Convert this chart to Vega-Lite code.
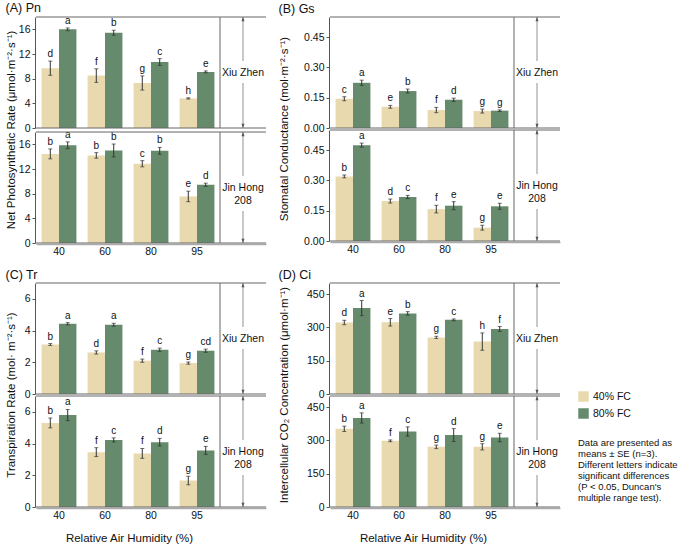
{
  "$schema": "https://vega.github.io/schema/vega-lite/v6.json",
  "padding": {"left": 5, "top": 2, "right": 5, "bottom": 2},
  "datasets": {
    "pn": [
      {"variety": "Xiu Zhen", "rh": "40", "fc": "40% FC", "mean": 9.7, "se": 1.15, "sig": "d"},
      {"variety": "Xiu Zhen", "rh": "40", "fc": "80% FC", "mean": 16.0, "se": 0.22, "sig": "a"},
      {"variety": "Xiu Zhen", "rh": "60", "fc": "40% FC", "mean": 8.5, "se": 1.1, "sig": "f"},
      {"variety": "Xiu Zhen", "rh": "60", "fc": "80% FC", "mean": 15.45, "se": 0.4, "sig": "b"},
      {"variety": "Xiu Zhen", "rh": "80", "fc": "40% FC", "mean": 7.3, "se": 1.15, "sig": "g"},
      {"variety": "Xiu Zhen", "rh": "80", "fc": "80% FC", "mean": 10.7, "se": 0.55, "sig": "c"},
      {"variety": "Xiu Zhen", "rh": "95", "fc": "40% FC", "mean": 4.8, "se": 0.1, "sig": "h"},
      {"variety": "Xiu Zhen", "rh": "95", "fc": "80% FC", "mean": 9.1, "se": 0.15, "sig": "e"},
      {"variety": "Jin Hong 208", "rh": "40", "fc": "40% FC", "mean": 14.45, "se": 0.8, "sig": "b"},
      {"variety": "Jin Hong 208", "rh": "40", "fc": "80% FC", "mean": 15.85, "se": 0.55, "sig": "a"},
      {"variety": "Jin Hong 208", "rh": "60", "fc": "40% FC", "mean": 14.2, "se": 0.45, "sig": "b"},
      {"variety": "Jin Hong 208", "rh": "60", "fc": "80% FC", "mean": 15.0, "se": 1.05, "sig": "b"},
      {"variety": "Jin Hong 208", "rh": "80", "fc": "40% FC", "mean": 12.85, "se": 0.5, "sig": "c"},
      {"variety": "Jin Hong 208", "rh": "80", "fc": "80% FC", "mean": 14.95, "se": 0.55, "sig": "b"},
      {"variety": "Jin Hong 208", "rh": "95", "fc": "40% FC", "mean": 7.55, "se": 0.85, "sig": "e"},
      {"variety": "Jin Hong 208", "rh": "95", "fc": "80% FC", "mean": 9.45, "se": 0.25, "sig": "d"}
    ],
    "gs": [
      {"variety": "Xiu Zhen", "rh": "40", "fc": "40% FC", "mean": 0.145, "se": 0.01, "sig": "c"},
      {"variety": "Xiu Zhen", "rh": "40", "fc": "80% FC", "mean": 0.224, "se": 0.013, "sig": "a"},
      {"variety": "Xiu Zhen", "rh": "60", "fc": "40% FC", "mean": 0.105, "se": 0.007, "sig": "e"},
      {"variety": "Xiu Zhen", "rh": "60", "fc": "80% FC", "mean": 0.183, "se": 0.01, "sig": "b"},
      {"variety": "Xiu Zhen", "rh": "80", "fc": "40% FC", "mean": 0.089, "se": 0.013, "sig": "f"},
      {"variety": "Xiu Zhen", "rh": "80", "fc": "80% FC", "mean": 0.14, "se": 0.008, "sig": "d"},
      {"variety": "Xiu Zhen", "rh": "95", "fc": "40% FC", "mean": 0.084, "se": 0.01, "sig": "g"},
      {"variety": "Xiu Zhen", "rh": "95", "fc": "80% FC", "mean": 0.086, "se": 0.004, "sig": "g"},
      {"variety": "Jin Hong 208", "rh": "40", "fc": "40% FC", "mean": 0.32, "se": 0.007, "sig": "b"},
      {"variety": "Jin Hong 208", "rh": "40", "fc": "80% FC", "mean": 0.475, "se": 0.01, "sig": "a"},
      {"variety": "Jin Hong 208", "rh": "60", "fc": "40% FC", "mean": 0.198, "se": 0.01, "sig": "d"},
      {"variety": "Jin Hong 208", "rh": "60", "fc": "80% FC", "mean": 0.218, "se": 0.008, "sig": "c"},
      {"variety": "Jin Hong 208", "rh": "80", "fc": "40% FC", "mean": 0.158, "se": 0.019, "sig": "f"},
      {"variety": "Jin Hong 208", "rh": "80", "fc": "80% FC", "mean": 0.175, "se": 0.02, "sig": "e"},
      {"variety": "Jin Hong 208", "rh": "95", "fc": "40% FC", "mean": 0.066, "se": 0.012, "sig": "g"},
      {"variety": "Jin Hong 208", "rh": "95", "fc": "80% FC", "mean": 0.172, "se": 0.015, "sig": "e"}
    ],
    "tr": [
      {"variety": "Xiu Zhen", "rh": "40", "fc": "40% FC", "mean": 3.12, "se": 0.06, "sig": "b"},
      {"variety": "Xiu Zhen", "rh": "40", "fc": "80% FC", "mean": 4.43, "se": 0.07, "sig": "a"},
      {"variety": "Xiu Zhen", "rh": "60", "fc": "40% FC", "mean": 2.62, "se": 0.1, "sig": "d"},
      {"variety": "Xiu Zhen", "rh": "60", "fc": "80% FC", "mean": 4.37, "se": 0.09, "sig": "a"},
      {"variety": "Xiu Zhen", "rh": "80", "fc": "40% FC", "mean": 2.1, "se": 0.1, "sig": "f"},
      {"variety": "Xiu Zhen", "rh": "80", "fc": "80% FC", "mean": 2.79, "se": 0.1, "sig": "c"},
      {"variety": "Xiu Zhen", "rh": "95", "fc": "40% FC", "mean": 1.95, "se": 0.07, "sig": "g"},
      {"variety": "Xiu Zhen", "rh": "95", "fc": "80% FC", "mean": 2.73, "se": 0.1, "sig": "cd"},
      {"variety": "Jin Hong 208", "rh": "40", "fc": "40% FC", "mean": 5.3, "se": 0.31, "sig": "b"},
      {"variety": "Jin Hong 208", "rh": "40", "fc": "80% FC", "mean": 5.8, "se": 0.35, "sig": "a"},
      {"variety": "Jin Hong 208", "rh": "60", "fc": "40% FC", "mean": 3.46, "se": 0.28, "sig": "f"},
      {"variety": "Jin Hong 208", "rh": "60", "fc": "80% FC", "mean": 4.23, "se": 0.13, "sig": "c"},
      {"variety": "Jin Hong 208", "rh": "80", "fc": "40% FC", "mean": 3.38, "se": 0.31, "sig": "f"},
      {"variety": "Jin Hong 208", "rh": "80", "fc": "80% FC", "mean": 4.09, "se": 0.24, "sig": "d"},
      {"variety": "Jin Hong 208", "rh": "95", "fc": "40% FC", "mean": 1.67, "se": 0.27, "sig": "g"},
      {"variety": "Jin Hong 208", "rh": "95", "fc": "80% FC", "mean": 3.57, "se": 0.25, "sig": "e"}
    ],
    "ci": [
      {"variety": "Xiu Zhen", "rh": "40", "fc": "40% FC", "mean": 322, "se": 10, "sig": "d"},
      {"variety": "Xiu Zhen", "rh": "40", "fc": "80% FC", "mean": 387, "se": 34, "sig": "a"},
      {"variety": "Xiu Zhen", "rh": "60", "fc": "40% FC", "mean": 323, "se": 17, "sig": "e"},
      {"variety": "Xiu Zhen", "rh": "60", "fc": "80% FC", "mean": 363, "se": 8, "sig": "b"},
      {"variety": "Xiu Zhen", "rh": "80", "fc": "40% FC", "mean": 255, "se": 5, "sig": "g"},
      {"variety": "Xiu Zhen", "rh": "80", "fc": "80% FC", "mean": 334, "se": 4, "sig": "c"},
      {"variety": "Xiu Zhen", "rh": "95", "fc": "40% FC", "mean": 236, "se": 39, "sig": "h"},
      {"variety": "Xiu Zhen", "rh": "95", "fc": "80% FC", "mean": 293, "se": 11, "sig": "f"},
      {"variety": "Jin Hong 208", "rh": "40", "fc": "40% FC", "mean": 352, "se": 12, "sig": "b"},
      {"variety": "Jin Hong 208", "rh": "40", "fc": "80% FC", "mean": 401, "se": 23, "sig": "a"},
      {"variety": "Jin Hong 208", "rh": "60", "fc": "40% FC", "mean": 298, "se": 4, "sig": "f"},
      {"variety": "Jin Hong 208", "rh": "60", "fc": "80% FC", "mean": 340, "se": 21, "sig": "c"},
      {"variety": "Jin Hong 208", "rh": "80", "fc": "40% FC", "mean": 271, "se": 8, "sig": "g"},
      {"variety": "Jin Hong 208", "rh": "80", "fc": "80% FC", "mean": 324, "se": 29, "sig": "d"},
      {"variety": "Jin Hong 208", "rh": "95", "fc": "40% FC", "mean": 271, "se": 14, "sig": "g"},
      {"variety": "Jin Hong 208", "rh": "95", "fc": "80% FC", "mean": 313, "se": 19, "sig": "e"}
    ]
  },
  "vconcat": [
    {
      "hconcat": [
        {
          "title": "(A) Pn",
          "data": {"name": "pn"},
          "facet": {"row": {"field": "variety", "type": "nominal", "sort": ["Xiu Zhen", "Jin Hong 208"], "header": {"title": "Net Photosynthetic Rate (μmol·m⁻²·s⁻¹)", "labels": false, "titlePadding": -9, "labelPadding": 0}}},
          "spacing": 0,
          "spec": {
            "width": 230, "height": 111,
            "layer": [
              {"mark": "bar", "encoding": {
                "x": {"field": "rh", "type": "nominal", "scale": {"domain": ["40", "60", "80", "95", "S"], "paddingInner": 0, "paddingOuter": 0}, "axis": {"labelExpr": "datum.value == 'S' ? '' : datum.label"}, "title": null},
                "xOffset": {"field": "fc", "type": "nominal", "scale": {"domain": ["40% FC", "80% FC"], "paddingInner": 0, "paddingOuter": 0.32}},
                "y": {"field": "mean", "type": "quantitative", "scale": {"domain": [0, 18], "nice": false}, "axis": {"values": [0, 4, 8, 12, 16], "tickCount": 20, "format": "d", "minExtent": 17}, "title": null},
                "color": {"field": "fc", "type": "nominal", "scale": {"domain": ["40% FC", "80% FC"], "range": ["#E9D9AE", "#668A6C"]}, "legend": {
                  "title": ["Data are presented as", "means ± SE (n=3).", "Different letters indicate", "significant differences", "(P < 0.05, Duncan's", "multiple range test)."],
                  "titleOrient": "bottom", "titleAnchor": "start", "titleFontSize": 9.5, "titleFontWeight": "normal", "titleColor": "#111", "titleLineHeight": 11, "titlePadding": 19, "titleLimit": 200,
                  "orient": "none", "legendX": 542, "legendY": 374, "symbolType": "square", "symbolSize": 110, "symbolStrokeWidth": 0, "labelFontSize": 10.5, "rowPadding": 6}}
              }},
              {"transform": [{"calculate": "datum.mean - datum.se", "as": "lo"}, {"calculate": "datum.mean + datum.se", "as": "hi"}],
               "layer": [
                 {"mark": {"type": "rule", "color": "#333", "strokeWidth": 1}, "encoding": {"x": {"field": "rh", "type": "nominal"}, "xOffset": {"field": "fc", "type": "nominal"}, "y": {"field": "lo", "type": "quantitative"}, "y2": {"field": "hi"}}},
                 {"mark": {"type": "tick", "orient": "horizontal", "size": 4, "thickness": 1, "color": "#333"}, "encoding": {"x": {"field": "rh", "type": "nominal"}, "xOffset": {"field": "fc", "type": "nominal"}, "y": {"field": "lo", "type": "quantitative"}}},
                 {"mark": {"type": "tick", "orient": "horizontal", "size": 4, "thickness": 1, "color": "#333"}, "encoding": {"x": {"field": "rh", "type": "nominal"}, "xOffset": {"field": "fc", "type": "nominal"}, "y": {"field": "hi", "type": "quantitative"}}},
                 {"mark": {"type": "text", "baseline": "bottom", "dy": -2, "fontSize": 10, "color": "#111"}, "encoding": {"x": {"field": "rh", "type": "nominal"}, "xOffset": {"field": "fc", "type": "nominal"}, "y": {"field": "hi", "type": "quantitative"}, "text": {"field": "sig"}}}
               ]},
              {"transform": [{"aggregate": [{"op": "count", "as": "n"}], "groupby": ["variety"]}, {"calculate": "replace(datum.variety, 'Hong ', 'Hong\\n')", "as": "lbl"}],
               "layer": [
                 {"mark": {"type": "rule", "color": "#777", "strokeWidth": 0.8}, "encoding": {"x": {"datum": "S"}, "y": {"datum": 18}, "y2": {"datum": 0}}},
                 {"mark": {"type": "point", "shape": "M0,0L-0.6,1.7L0.6,1.7Z", "filled": true, "size": 26, "color": "#555", "opacity": 1}, "encoding": {"x": {"datum": "S"}, "y": {"datum": 18}}},
                 {"mark": {"type": "point", "shape": "M0,0L-0.6,-1.7L0.6,-1.7Z", "filled": true, "size": 26, "color": "#555", "opacity": 1}, "encoding": {"x": {"datum": "S"}, "y": {"datum": 0}}},
                 {"mark": {"type": "text", "fill": "white", "stroke": "white", "strokeWidth": 14, "strokeJoin": "round", "lineBreak": "\n", "fontSize": 10.5, "lineHeight": 13}, "encoding": {"x": {"datum": "S"}, "y": {"datum": 9}, "text": {"field": "lbl"}}},
                 {"mark": {"type": "text", "color": "#111", "lineBreak": "\n", "fontSize": 10.5, "lineHeight": 13}, "encoding": {"x": {"datum": "S"}, "y": {"datum": 9}, "text": {"field": "lbl"}}},
                 {"mark": {"type": "rule", "color": "#666", "strokeWidth": 1}, "encoding": {"y": {"datum": 18}}},
                 {"mark": {"type": "rule", "color": "#666", "strokeWidth": 1}, "encoding": {"y": {"datum": 0}}},
                 {"mark": {"type": "rule", "color": "#666", "strokeWidth": 1}, "encoding": {"x": {"datum": "S", "bandPosition": 0}}}
               ]}
            ]
          }
        },
        {
          "title": "(B) Gs",
          "data": {"name": "gs"},
          "facet": {"row": {"field": "variety", "type": "nominal", "sort": ["Xiu Zhen", "Jin Hong 208"], "header": {"title": "Stomatal Conductance (mol·m⁻²·s⁻¹)", "labels": false, "titlePadding": 3, "labelPadding": 0}}},
          "spacing": 0,
          "spec": {
            "width": 230, "height": 111,
            "layer": [
              {"mark": "bar", "encoding": {
                "x": {"field": "rh", "type": "nominal", "scale": {"domain": ["40", "60", "80", "95", "S"], "paddingInner": 0, "paddingOuter": 0}, "axis": {"labelExpr": "datum.value == 'S' ? '' : datum.label"}, "title": null},
                "xOffset": {"field": "fc", "type": "nominal", "scale": {"domain": ["40% FC", "80% FC"], "paddingInner": 0, "paddingOuter": 0.32}},
                "y": {"field": "mean", "type": "quantitative", "scale": {"domain": [0, 0.55], "nice": false}, "axis": {"values": [0, 0.15, 0.3, 0.45], "format": ".2f", "tickCount": 20, "minExtent": 26}, "title": null},
                "color": {"field": "fc", "type": "nominal"}
              }},
              {"transform": [{"calculate": "datum.mean - datum.se", "as": "lo"}, {"calculate": "datum.mean + datum.se", "as": "hi"}],
               "layer": [
                 {"mark": {"type": "rule", "color": "#333", "strokeWidth": 1}, "encoding": {"x": {"field": "rh", "type": "nominal"}, "xOffset": {"field": "fc", "type": "nominal"}, "y": {"field": "lo", "type": "quantitative"}, "y2": {"field": "hi"}}},
                 {"mark": {"type": "tick", "orient": "horizontal", "size": 4, "thickness": 1, "color": "#333"}, "encoding": {"x": {"field": "rh", "type": "nominal"}, "xOffset": {"field": "fc", "type": "nominal"}, "y": {"field": "lo", "type": "quantitative"}}},
                 {"mark": {"type": "tick", "orient": "horizontal", "size": 4, "thickness": 1, "color": "#333"}, "encoding": {"x": {"field": "rh", "type": "nominal"}, "xOffset": {"field": "fc", "type": "nominal"}, "y": {"field": "hi", "type": "quantitative"}}},
                 {"mark": {"type": "text", "baseline": "bottom", "dy": -2, "fontSize": 10, "color": "#111"}, "encoding": {"x": {"field": "rh", "type": "nominal"}, "xOffset": {"field": "fc", "type": "nominal"}, "y": {"field": "hi", "type": "quantitative"}, "text": {"field": "sig"}}}
               ]},
              {"transform": [{"aggregate": [{"op": "count", "as": "n"}], "groupby": ["variety"]}, {"calculate": "replace(datum.variety, 'Hong ', 'Hong\\n')", "as": "lbl"}],
               "layer": [
                 {"mark": {"type": "rule", "color": "#777", "strokeWidth": 0.8}, "encoding": {"x": {"datum": "S"}, "y": {"datum": 0.55}, "y2": {"datum": 0}}},
                 {"mark": {"type": "point", "shape": "M0,0L-0.6,1.7L0.6,1.7Z", "filled": true, "size": 26, "color": "#555", "opacity": 1}, "encoding": {"x": {"datum": "S"}, "y": {"datum": 0.55}}},
                 {"mark": {"type": "point", "shape": "M0,0L-0.6,-1.7L0.6,-1.7Z", "filled": true, "size": 26, "color": "#555", "opacity": 1}, "encoding": {"x": {"datum": "S"}, "y": {"datum": 0}}},
                 {"mark": {"type": "text", "fill": "white", "stroke": "white", "strokeWidth": 14, "strokeJoin": "round", "lineBreak": "\n", "fontSize": 10.5, "lineHeight": 13}, "encoding": {"x": {"datum": "S"}, "y": {"datum": 0.275}, "text": {"field": "lbl"}}},
                 {"mark": {"type": "text", "color": "#111", "lineBreak": "\n", "fontSize": 10.5, "lineHeight": 13}, "encoding": {"x": {"datum": "S"}, "y": {"datum": 0.275}, "text": {"field": "lbl"}}},
                 {"mark": {"type": "rule", "color": "#666", "strokeWidth": 1}, "encoding": {"y": {"datum": 0.55}}},
                 {"mark": {"type": "rule", "color": "#666", "strokeWidth": 1}, "encoding": {"y": {"datum": 0}}},
                 {"mark": {"type": "rule", "color": "#666", "strokeWidth": 1}, "encoding": {"x": {"datum": "S", "bandPosition": 0}}}
               ]}
            ]
          }
        }
      ]
    },
    {
      "hconcat": [
        {
          "title": "(C) Tr",
          "data": {"name": "tr"},
          "facet": {"row": {"field": "variety", "type": "nominal", "sort": ["Xiu Zhen", "Jin Hong 208"], "header": {"title": "Transpiration Rate (mol· m⁻²·s⁻¹)", "labels": false, "titlePadding": -9, "labelPadding": 0}}},
          "spacing": 0,
          "spec": {
            "width": 230, "height": 111,
            "layer": [
              {"mark": "bar", "encoding": {
                "x": {"field": "rh", "type": "nominal", "scale": {"domain": ["40", "60", "80", "95", "S"], "paddingInner": 0, "paddingOuter": 0}, "axis": {"labelExpr": "datum.value == 'S' ? '' : datum.label", "titleX": 93}, "title": "Relative Air Humidity (%)"},
                "xOffset": {"field": "fc", "type": "nominal", "scale": {"domain": ["40% FC", "80% FC"], "paddingInner": 0, "paddingOuter": 0.32}},
                "y": {"field": "mean", "type": "quantitative", "scale": {"domain": [0, 7], "nice": false}, "axis": {"values": [0, 2, 4, 6], "tickCount": 20, "format": "d", "minExtent": 17}, "title": null},
                "color": {"field": "fc", "type": "nominal"}
              }},
              {"transform": [{"calculate": "datum.mean - datum.se", "as": "lo"}, {"calculate": "datum.mean + datum.se", "as": "hi"}],
               "layer": [
                 {"mark": {"type": "rule", "color": "#333", "strokeWidth": 1}, "encoding": {"x": {"field": "rh", "type": "nominal"}, "xOffset": {"field": "fc", "type": "nominal"}, "y": {"field": "lo", "type": "quantitative"}, "y2": {"field": "hi"}}},
                 {"mark": {"type": "tick", "orient": "horizontal", "size": 4, "thickness": 1, "color": "#333"}, "encoding": {"x": {"field": "rh", "type": "nominal"}, "xOffset": {"field": "fc", "type": "nominal"}, "y": {"field": "lo", "type": "quantitative"}}},
                 {"mark": {"type": "tick", "orient": "horizontal", "size": 4, "thickness": 1, "color": "#333"}, "encoding": {"x": {"field": "rh", "type": "nominal"}, "xOffset": {"field": "fc", "type": "nominal"}, "y": {"field": "hi", "type": "quantitative"}}},
                 {"mark": {"type": "text", "baseline": "bottom", "dy": -2, "fontSize": 10, "color": "#111"}, "encoding": {"x": {"field": "rh", "type": "nominal"}, "xOffset": {"field": "fc", "type": "nominal"}, "y": {"field": "hi", "type": "quantitative"}, "text": {"field": "sig"}}}
               ]},
              {"transform": [{"aggregate": [{"op": "count", "as": "n"}], "groupby": ["variety"]}, {"calculate": "replace(datum.variety, 'Hong ', 'Hong\\n')", "as": "lbl"}],
               "layer": [
                 {"mark": {"type": "rule", "color": "#777", "strokeWidth": 0.8}, "encoding": {"x": {"datum": "S"}, "y": {"datum": 7}, "y2": {"datum": 0}}},
                 {"mark": {"type": "point", "shape": "M0,0L-0.6,1.7L0.6,1.7Z", "filled": true, "size": 26, "color": "#555", "opacity": 1}, "encoding": {"x": {"datum": "S"}, "y": {"datum": 7}}},
                 {"mark": {"type": "point", "shape": "M0,0L-0.6,-1.7L0.6,-1.7Z", "filled": true, "size": 26, "color": "#555", "opacity": 1}, "encoding": {"x": {"datum": "S"}, "y": {"datum": 0}}},
                 {"mark": {"type": "text", "fill": "white", "stroke": "white", "strokeWidth": 14, "strokeJoin": "round", "lineBreak": "\n", "fontSize": 10.5, "lineHeight": 13}, "encoding": {"x": {"datum": "S"}, "y": {"datum": 3.5}, "text": {"field": "lbl"}}},
                 {"mark": {"type": "text", "color": "#111", "lineBreak": "\n", "fontSize": 10.5, "lineHeight": 13}, "encoding": {"x": {"datum": "S"}, "y": {"datum": 3.5}, "text": {"field": "lbl"}}},
                 {"mark": {"type": "rule", "color": "#666", "strokeWidth": 1}, "encoding": {"y": {"datum": 7}}},
                 {"mark": {"type": "rule", "color": "#666", "strokeWidth": 1}, "encoding": {"y": {"datum": 0}}},
                 {"mark": {"type": "rule", "color": "#666", "strokeWidth": 1}, "encoding": {"x": {"datum": "S", "bandPosition": 0}}}
               ]}
            ]
          }
        },
        {
          "title": "(D) Ci",
          "data": {"name": "ci"},
          "facet": {"row": {"field": "variety", "type": "nominal", "sort": ["Xiu Zhen", "Jin Hong 208"], "header": {"title": "Intercellular CO₂ Concentration (μmol·m⁻¹)", "labels": false, "titlePadding": 3, "labelPadding": 0}}},
          "spacing": 0,
          "spec": {
            "width": 230, "height": 111,
            "layer": [
              {"mark": "bar", "encoding": {
                "x": {"field": "rh", "type": "nominal", "scale": {"domain": ["40", "60", "80", "95", "S"], "paddingInner": 0, "paddingOuter": 0}, "axis": {"labelExpr": "datum.value == 'S' ? '' : datum.label", "titleX": 93}, "title": "Relative Air Humidity (%)"},
                "xOffset": {"field": "fc", "type": "nominal", "scale": {"domain": ["40% FC", "80% FC"], "paddingInner": 0, "paddingOuter": 0.32}},
                "y": {"field": "mean", "type": "quantitative", "scale": {"domain": [0, 500], "nice": false}, "axis": {"values": [0, 150, 300, 450], "tickCount": 20, "format": "d", "minExtent": 26}, "title": null},
                "color": {"field": "fc", "type": "nominal"}
              }},
              {"transform": [{"calculate": "datum.mean - datum.se", "as": "lo"}, {"calculate": "datum.mean + datum.se", "as": "hi"}],
               "layer": [
                 {"mark": {"type": "rule", "color": "#333", "strokeWidth": 1}, "encoding": {"x": {"field": "rh", "type": "nominal"}, "xOffset": {"field": "fc", "type": "nominal"}, "y": {"field": "lo", "type": "quantitative"}, "y2": {"field": "hi"}}},
                 {"mark": {"type": "tick", "orient": "horizontal", "size": 4, "thickness": 1, "color": "#333"}, "encoding": {"x": {"field": "rh", "type": "nominal"}, "xOffset": {"field": "fc", "type": "nominal"}, "y": {"field": "lo", "type": "quantitative"}}},
                 {"mark": {"type": "tick", "orient": "horizontal", "size": 4, "thickness": 1, "color": "#333"}, "encoding": {"x": {"field": "rh", "type": "nominal"}, "xOffset": {"field": "fc", "type": "nominal"}, "y": {"field": "hi", "type": "quantitative"}}},
                 {"mark": {"type": "text", "baseline": "bottom", "dy": -2, "fontSize": 10, "color": "#111"}, "encoding": {"x": {"field": "rh", "type": "nominal"}, "xOffset": {"field": "fc", "type": "nominal"}, "y": {"field": "hi", "type": "quantitative"}, "text": {"field": "sig"}}}
               ]},
              {"transform": [{"aggregate": [{"op": "count", "as": "n"}], "groupby": ["variety"]}, {"calculate": "replace(datum.variety, 'Hong ', 'Hong\\n')", "as": "lbl"}],
               "layer": [
                 {"mark": {"type": "rule", "color": "#777", "strokeWidth": 0.8}, "encoding": {"x": {"datum": "S"}, "y": {"datum": 500}, "y2": {"datum": 0}}},
                 {"mark": {"type": "point", "shape": "M0,0L-0.6,1.7L0.6,1.7Z", "filled": true, "size": 26, "color": "#555", "opacity": 1}, "encoding": {"x": {"datum": "S"}, "y": {"datum": 500}}},
                 {"mark": {"type": "point", "shape": "M0,0L-0.6,-1.7L0.6,-1.7Z", "filled": true, "size": 26, "color": "#555", "opacity": 1}, "encoding": {"x": {"datum": "S"}, "y": {"datum": 0}}},
                 {"mark": {"type": "text", "fill": "white", "stroke": "white", "strokeWidth": 14, "strokeJoin": "round", "lineBreak": "\n", "fontSize": 10.5, "lineHeight": 13}, "encoding": {"x": {"datum": "S"}, "y": {"datum": 250}, "text": {"field": "lbl"}}},
                 {"mark": {"type": "text", "color": "#111", "lineBreak": "\n", "fontSize": 10.5, "lineHeight": 13}, "encoding": {"x": {"datum": "S"}, "y": {"datum": 250}, "text": {"field": "lbl"}}},
                 {"mark": {"type": "rule", "color": "#666", "strokeWidth": 1}, "encoding": {"y": {"datum": 500}}},
                 {"mark": {"type": "rule", "color": "#666", "strokeWidth": 1}, "encoding": {"y": {"datum": 0}}},
                 {"mark": {"type": "rule", "color": "#666", "strokeWidth": 1}, "encoding": {"x": {"datum": "S", "bandPosition": 0}}}
               ]}
            ]
          }
        }
      ]
    }
  ],
  "spacing": 12,
  "config": {
    "view": {"stroke": null},
    "font": "Liberation Sans",
    "concat": {"spacing": 11},
    "title": {"fontSize": 12.5, "fontWeight": "normal", "color": "#111", "anchor": "start", "frame": "bounds", "offset": 1},
    "header": {"titleFontSize": 11.5, "titleFontWeight": "normal", "titleColor": "#111", "labelPadding": 0},
    "axis": {"labelColor": "#111", "titleColor": "#111", "labelFontSize": 10.5, "titleFontSize": 11.5, "titleFontWeight": "normal", "domainColor": "#555", "tickColor": "#555", "grid": false},
    "axisY": {"tickSize": 3, "labelPadding": 2, "labelOverlap": false},
    "axisX": {"ticks": false, "domainColor": "#aaa", "domainWidth": 1.5, "labelPadding": 2, "titlePadding": 12, "labelAngle": 0, "minExtent": 0},
    "legend": {"labelColor": "#111"}
  }
}
